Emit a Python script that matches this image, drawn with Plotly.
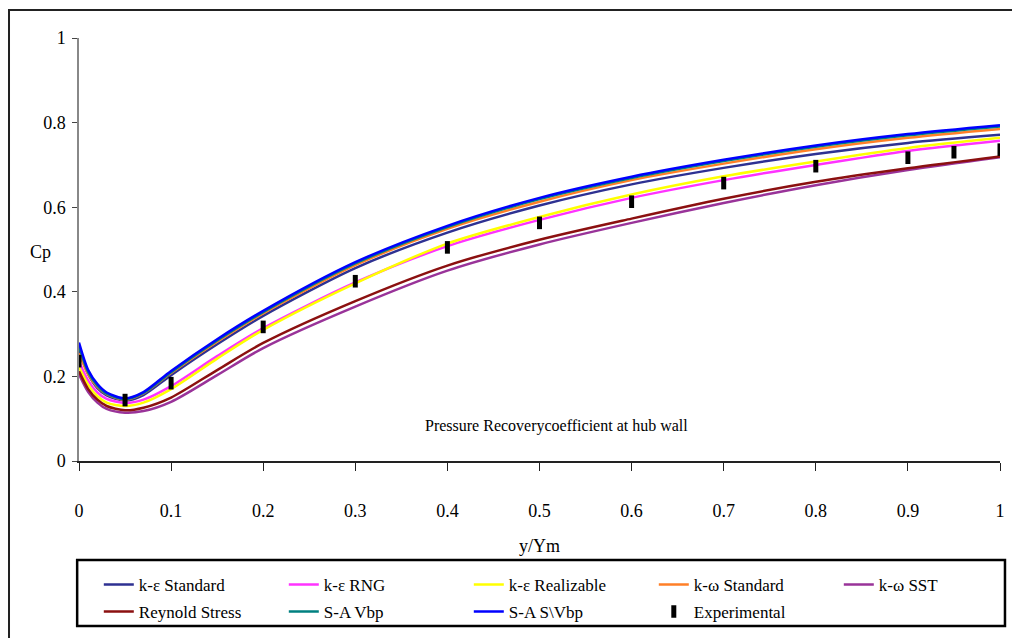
import plotly.graph_objects as go

# Distance from the hub, normalised (y/Ym)
x_cfd = [0, 0.01, 0.02, 0.03, 0.05, 0.07, 0.1, 0.15, 0.2, 0.3, 0.4, 0.5, 0.6, 0.7, 0.8, 0.9, 1.0]

# Pressure recovery coefficient Cp for each turbulence model
cp_ke_standard = [0.262, 0.205, 0.172, 0.155, 0.143, 0.156, 0.203, 0.276, 0.343, 0.456, 0.540, 0.604, 0.654, 0.693, 0.726, 0.752, 0.771]
cp_ke_rng = [0.235, 0.190, 0.162, 0.147, 0.137, 0.145, 0.177, 0.248, 0.314, 0.422, 0.508, 0.570, 0.622, 0.664, 0.700, 0.733, 0.757]
cp_ke_realizable = [0.222, 0.180, 0.153, 0.138, 0.130, 0.138, 0.170, 0.242, 0.310, 0.420, 0.514, 0.577, 0.630, 0.673, 0.708, 0.740, 0.764]
cp_kw_standard = [0.255, 0.205, 0.175, 0.158, 0.145, 0.160, 0.208, 0.282, 0.349, 0.463, 0.549, 0.613, 0.664, 0.703, 0.737, 0.764, 0.785]
cp_kw_sst = [0.205, 0.163, 0.138, 0.123, 0.114, 0.118, 0.140, 0.203, 0.267, 0.365, 0.450, 0.512, 0.563, 0.610, 0.652, 0.688, 0.718]
cp_reynolds = [0.212, 0.170, 0.145, 0.130, 0.120, 0.126, 0.150, 0.215, 0.279, 0.378, 0.462, 0.523, 0.573, 0.620, 0.660, 0.692, 0.720]
cp_sa_vbp = [0.272, 0.210, 0.178, 0.159, 0.146, 0.161, 0.210, 0.285, 0.352, 0.467, 0.553, 0.619, 0.669, 0.709, 0.743, 0.770, 0.791]
cp_sa_svbp = [0.280, 0.215, 0.182, 0.162, 0.148, 0.163, 0.213, 0.288, 0.355, 0.470, 0.556, 0.622, 0.672, 0.712, 0.746, 0.773, 0.794]

# Measured values
x_exp = [0, 0.05, 0.1, 0.2, 0.3, 0.4, 0.5, 0.6, 0.7, 0.8, 0.9, 0.95, 1.0]
cp_exp = [0.236, 0.144, 0.184, 0.317, 0.425, 0.505, 0.563, 0.613, 0.657, 0.697, 0.717, 0.730, 0.736]

x_ticks = [0, 0.1, 0.2, 0.3, 0.4, 0.5, 0.6, 0.7, 0.8, 0.9, 1]
x_tick_text = ["0", "0.1", "0.2", "0.3", "0.4", "0.5", "0.6", "0.7", "0.8", "0.9", "1"]
y_ticks = [0, 0.2, 0.4, 0.6, 0.8, 1]
y_tick_text = ["0", "0.2", "0.4", "0.6", "0.8", "1"]

# name, values, colour, legend row
series = [
    ("k-ε Standard", cp_ke_standard, "#2e3192", "legend"),
    ("k-ε RNG", cp_ke_rng, "#ff33ff", "legend"),
    ("k-ε Realizable", cp_ke_realizable, "#ffff00", "legend"),
    ("k-ω Standard", cp_kw_standard, "#ff7f27", "legend"),
    ("k-ω SST", cp_kw_sst, "#993399", "legend"),
    ("Reynold Stress", cp_reynolds, "#8b1010", "legend2"),
    ("S-A Vbp", cp_sa_vbp, "#008080", "legend2"),
    ("S-A S\\Vbp", cp_sa_svbp, "#0000ff", "legend2"),
]

FONT = "Times New Roman, Liberation Serif, DejaVu Serif, serif"

fig = go.Figure()
for name, values, color, leg in series:
    fig.add_trace(go.Scatter(
        x=x_cfd, y=values, name=name, mode="lines", legend=leg,
        line=dict(color=color, width=2.5, shape="spline", smoothing=0.8),
    ))

fig.add_trace(go.Scatter(
    x=x_exp, y=cp_exp, name="Experimental", mode="markers", legend="legend2",
    marker=dict(symbol="line-ns", size=9, color="black",
                line=dict(color="black", width=5)),
))

legend_style = dict(
    orientation="h", x=0.0215, xanchor="left", yanchor="middle",
    entrywidth=140, entrywidthmode="pixels",
    borderwidth=0, bgcolor="rgba(0,0,0,0)",
    font=dict(family=FONT, size=17), itemclick=False,
)

fig.update_layout(
    width=1012, height=638,
    margin=dict(l=79, r=12, t=38, b=177, autoexpand=False),
    paper_bgcolor="white", plot_bgcolor="white",
    font=dict(family=FONT, size=17, color="black"),
    showlegend=True,
    legend=dict(legend_style, y=-0.293),
    legend2=dict(legend_style, y=-0.357),
    xaxis=dict(
        range=[0, 1], tickvals=x_ticks, ticktext=x_tick_text,
        showgrid=False, zeroline=False,
        showline=True, linecolor="#222", linewidth=2,
        ticks="outside", ticklen=8, tickwidth=1, tickcolor="#222",
        ticklabelstandoff=24, tickfont=dict(size=18),
        title=dict(text="y/Ym", font=dict(family=FONT, size=18), standoff=20),
    ),
    yaxis=dict(
        range=[0, 1], tickvals=y_ticks, ticktext=y_tick_text,
        showgrid=False, zeroline=False,
        showline=True, linecolor="#888", linewidth=1.5,
        ticks="outside", ticklen=5, tickwidth=1, tickcolor="#444",
        ticklabelstandoff=3, tickfont=dict(size=18),
    ),
    annotations=[
        dict(text="Cp", xref="paper", yref="paper", x=-0.0554, y=0.494,
             xanchor="left", showarrow=False, font=dict(family=FONT, size=18)),
        dict(text="Pressure Recoverycoefficient at hub wall", xref="paper", yref="paper",
             x=0.519, y=0.057, showarrow=False, font=dict(family=FONT, size=16)),
    ],
    shapes=[
        # outer frame
        dict(type="rect", xref="paper", yref="paper",
             x0=-0.076, x1=1.04, y0=-0.45, y1=1.066,
             line=dict(color="#222", width=2), layer="below"),
        # legend frame
        dict(type="rect", xref="paper", yref="paper",
             x0=-0.002, x1=1.0054, y0=-0.390, y1=-0.234,
             line=dict(color="black", width=2.5), layer="below"),
    ],
)

fig.write_html("out.html")
